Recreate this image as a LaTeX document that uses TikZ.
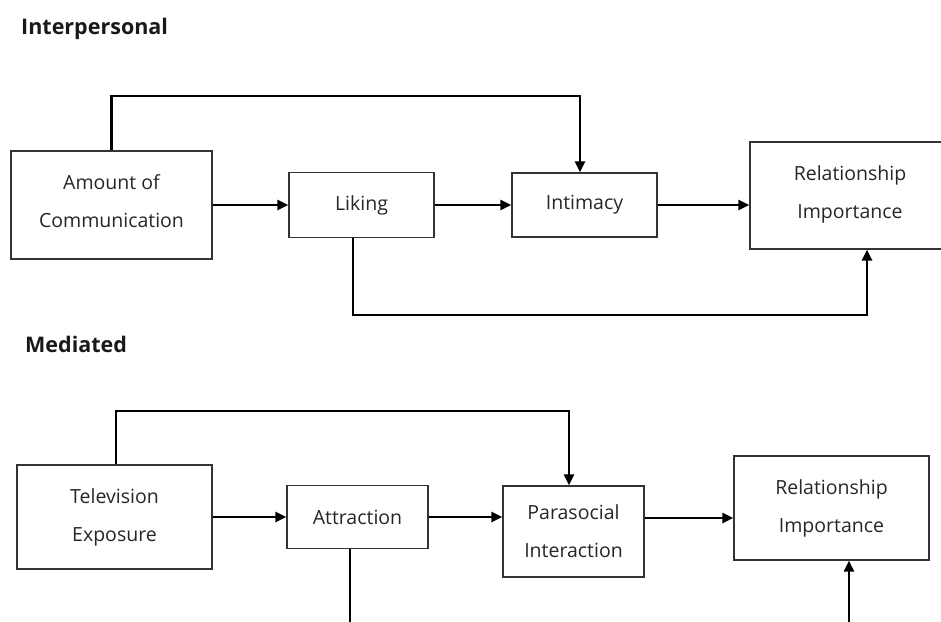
\documentclass[tikz,border=0pt]{standalone}
\usepackage{fontspec}
\setmainfont{Open Sans}
\usetikzlibrary{arrows.meta}
\begin{document}
\begin{tikzpicture}[x=1pt,y=-1pt,
  box/.style={draw=black!80, line width=1.3pt, rectangle, inner sep=0pt, align=center,
    font=\fontsize{19.5}{38}\selectfont, text=black!85},
  boxtext/.style={inner sep=0pt, align=center, font=\fontsize{19.5}{38}\selectfont, text=black!85},
  conn/.style={line width=2.8pt, -{Triangle[length=11pt,width=10pt]}},
  plain/.style={line width=2.8pt},
  title/.style={font=\fontsize{21.5}{26}\selectfont\bfseries, anchor=base west, inner sep=0pt, text=black!90}]
\useasboundingbox (0,0) rectangle (941,621);
\clip (0,0) rectangle (941,621);
% titles
\node[title] (t1) at (21,34) {Interpersonal};
\node[title] (t2) at (25,352) {Mediated};
% interpersonal boxes
\node[box, minimum width=201pt, minimum height=108pt] (A) at (111.5,205) {};
\node[boxtext] (Atext) at ([yshift=4pt]A.center) {Amount of\\Communication};
\node[box, minimum width=145pt, minimum height=65pt] (L) at (361.5,205) {Liking};
\node[box, minimum width=145pt, minimum height=64pt] (I) at (584.5,205) {Intimacy};
\node[box, minimum width=210pt, minimum height=107pt] (R) at (855,195.5) {};
\node[boxtext] (Rtext) at ([xshift=-5pt,yshift=1pt]R.center) {Relationship\\Importance};
\coordinate (top1) at (0,96);
\coordinate (bot1) at (0,315);
\draw[conn] (A.east) -- (A.east -| L.west);
\draw[conn] (L.east) -- (L.east -| I.west);
\draw[conn] (I.east) -- (I.east -| R.west);
\draw[conn] (A.north) -- (A.north |- top1) -| ([xshift=-4.5pt]I.north);
\draw[conn] ([xshift=-8.5pt]L.south) -- ([xshift=-8.5pt]L.south |- bot1) -| ([xshift=12pt]R.south);
% mediated boxes
\node[box, minimum width=195pt, minimum height=104pt] (T) at (114.5,517) {Television\\Exposure};
\node[box, minimum width=141pt, minimum height=63pt] (At) at (357.5,517) {Attraction};
\node[box, minimum width=141pt, minimum height=91pt] (P) at (573.5,531.5) {Parasocial\\Interaction};
\node[box, minimum width=195pt, minimum height=104pt] (R2) at (831.5,508) {Relationship\\Importance};
\coordinate (top2) at (0,411);
\coordinate (bot2) at (0,625);
\draw[conn] (T.east) -- (T.east -| At.west);
\draw[conn] (At.east) -- (At.east -| P.west);
\draw[conn] ([yshift=13.5pt]P.east) -- ([yshift=13.5pt]P.east -| R2.west);
\draw[conn] ([xshift=1.5pt]T.north) -- ([xshift=1.5pt]T.north |- top2) -| ([xshift=-4.5pt]P.north);
\draw[plain] ([xshift=-7.5pt]At.south) -- ([xshift=-7.5pt]At.south |- bot2);
\coordinate (up2) at (849,625);
\draw[conn] (up2) -- (up2 |- R2.south);
\end{tikzpicture}
\end{document}
